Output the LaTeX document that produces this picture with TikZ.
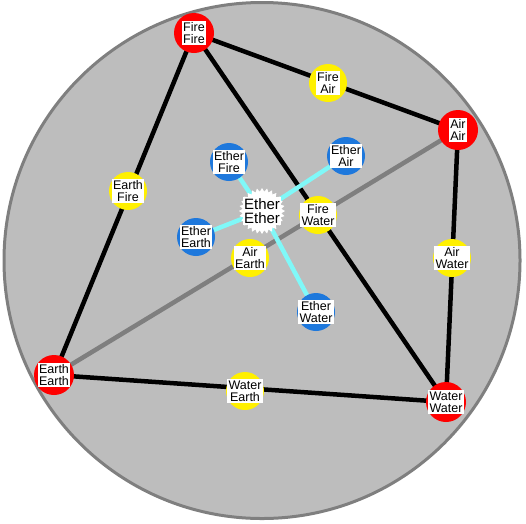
\documentclass[tikz,border=0pt]{standalone}
\usepackage{fontspec}
\setmainfont{Liberation Sans}
\usetikzlibrary{shapes.geometric}
\definecolor{disc}{HTML}{BDBDBD}
\definecolor{rim}{HTML}{7F7F7F}
\definecolor{pure}{HTML}{FF0000}
\definecolor{mixed}{HTML}{FFF000}
\definecolor{ether}{HTML}{1E78DC}
\definecolor{beam}{HTML}{80F8F8}

\begin{document}
\begin{tikzpicture}[x=1pt,y=-1pt,
    dot/.style={circle,minimum size=40pt,inner sep=0pt},
    puredot/.style={dot,fill=pure},
    mixdot/.style={dot,fill=mixed,minimum size=38pt},
    etherdot/.style={dot,fill=ether,minimum size=38pt},
    burst/.style={star,star points=28,star point ratio=1.18,minimum size=46pt,inner sep=0pt,fill=white},
    tag/.style={fill=white,inner sep=1.3pt,align=center,font=\fontsize{12.5}{12}\selectfont},
    edge/.style={line width=4.5pt},
    ray/.style={beam,line width=4.5pt}]
  \useasboundingbox (0,0) rectangle (526,523);
  \fill[disc] (262,260.5) circle (258);
  \draw[rim,line width=3pt] (262,260.5) circle (258);
  % places
  \coordinate (ff) at (194,33);
  \coordinate (aa) at (458,130);
  \coordinate (ee) at (54,375);
  \coordinate (ww) at (446,402);
  \coordinate (xx) at (262,211);
  \coordinate (xf) at (229,162);
  \coordinate (xa) at (346,156);
  \coordinate (xe) at (196,237);
  \coordinate (xw) at (316,312);
  % connectors
  \draw[edge,rim] (aa) -- (ee);
  \draw[edge] (ff) -- (aa);
  \draw[edge] (ff) -- (ee);
  \draw[edge] (ff) -- (ww);
  \draw[edge] (aa) -- (ww);
  \draw[edge] (ee) -- (ww);
  \foreach \n in {xf,xa,xe,xw}
    \draw[ray] (xx) -- (\n);
  % pure elements
  \node[puredot] at (ff) {};
  \node[puredot] at (aa) {};
  \node[puredot] at (ee) {};
  \node[puredot] at (ww) {};
  % mixtures
  \node[mixdot] (fa) at (328,83) {};
  \node[mixdot] (ef) at (128,191) {};
  \node[mixdot] (aw) at (452,258) {};
  \node[mixdot] (we) at (245,391) {};
  \node[mixdot] (fw) at (318,215) {};
  \node[mixdot] (ae) at (250,258) {};
  % ether
  \node[etherdot] at (xf) {};
  \node[etherdot] at (xa) {};
  \node[etherdot] at (xe) {};
  \node[etherdot] at (xw) {};
  \node[burst] at (xx) {};
  % labels
  \node[tag] at (ff) {Fire\\Fire};
  \node[tag] at (aa) {Air\\Air};
  \node[tag] at (ee) {Earth\\Earth};
  \node[tag] at (ww) {Water\\Water};
  \node[tag] at (fa) {Fire\\Air};
  \node[tag] at (ef) {Earth\\Fire};
  \node[tag] at (aw) {Air\\Water};
  \node[tag] at (we) {Water\\Earth};
  \node[tag] at (fw) {Fire\\Water};
  \node[tag] at (ae) {Air\\Earth};
  \node[tag] at (xf) {Ether\\Fire};
  \node[tag] at (xa) {Ether\\Air};
  \node[tag] at (xe) {Ether\\Earth};
  \node[tag] at (xw) {Ether\\Water};
  \node[tag,font=\fontsize{15}{14}\selectfont] at (xx) {Ether\\Ether};
\end{tikzpicture}
\end{document}
